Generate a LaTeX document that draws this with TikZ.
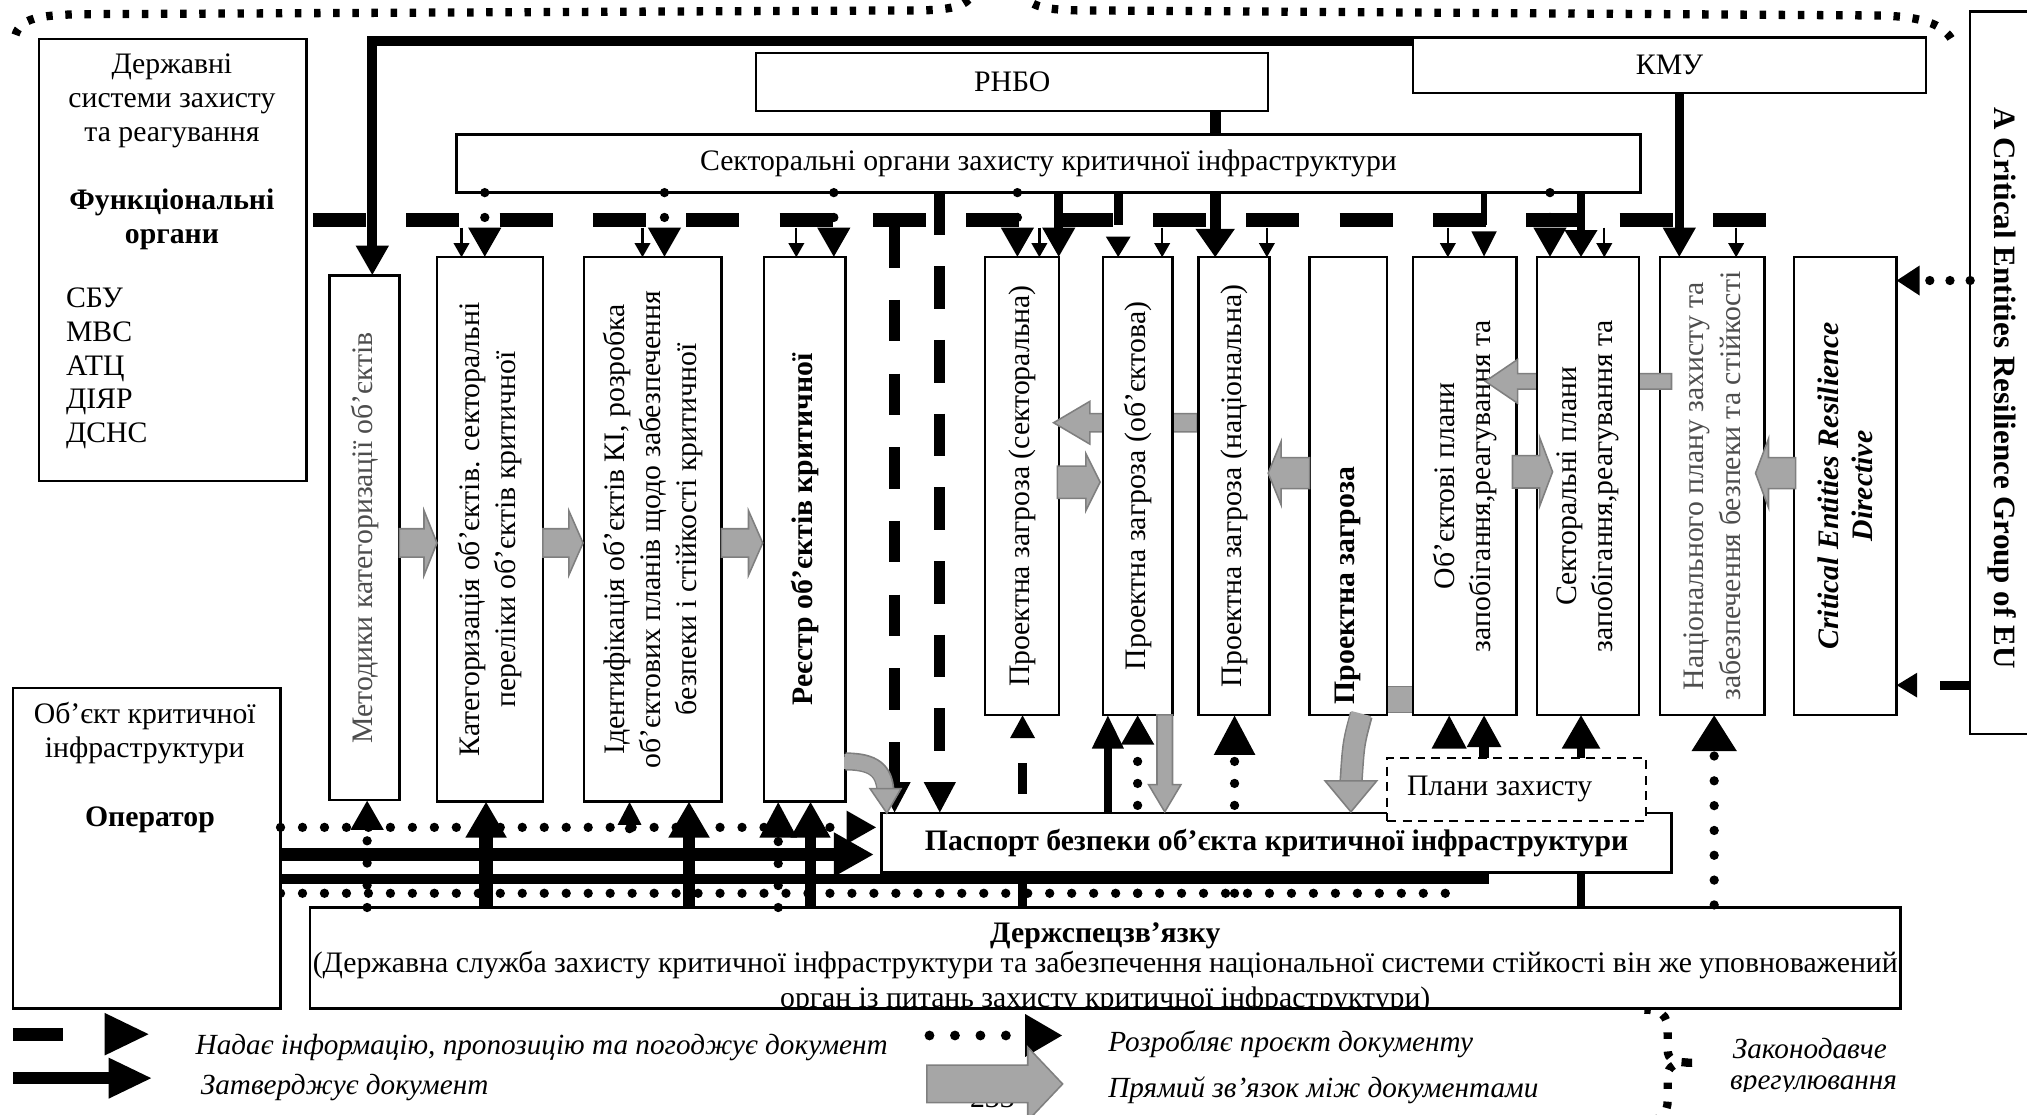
\documentclass[tikz,border=0pt]{standalone}
\usepackage{fontspec}
\setmainfont{Liberation Serif}
\usetikzlibrary{arrows.meta}
\pgfdeclarelayer{bg}
\pgfsetlayers{bg,main}
\definecolor{gfill}{HTML}{A6A6A6}
\definecolor{gedge}{HTML}{7F7F7F}
\definecolor{txtgray}{HTML}{4D4D4D}
\newcommand{\mkbox}[6][]{\node[box,#1,minimum width={(#5-#3)*0.5pt},minimum height={(#6-#4)*0.5pt}] (#2) at ({(#3+#5)/2},{(#4+#6)/2}) {};}
\newcommand{\GArrH}[6]{\filldraw[garrow] (#1,#3-#4) -- (#6,#3-#4) -- (#6,#3-#5) -- (#2,#3) -- (#6,#3+#5) -- (#6,#3+#4) -- (#1,#3+#4) -- cycle;}
\newcommand{\GArrV}[6]{\filldraw[garrow] (#1-#4,#2) -- (#1-#4,#6) -- (#1-#5,#6) -- (#1,#3) -- (#1+#5,#6) -- (#1+#4,#6) -- (#1+#4,#2) -- cycle;}
\begin{document}
\begin{tikzpicture}[x=0.5pt,y=-0.5pt,
 font=\fontsize{11.5}{13.2}\selectfont,
 box/.style={draw,line width=0.9pt,fill=white,inner sep=0pt,outer sep=0pt},
 vt/.style={rotate=90,align=center,font=\fontsize{11.5}{14}\selectfont,inner sep=0pt},
 thinarr/.style={line width=0.9pt,-{Triangle[width=6pt,length=5.5pt]}},
 thk/.style={line width=3.6pt,-{Triangle[width=12pt,length=11.5pt]}},
 dotln/.style={line width=3.6pt,line cap=round,dash pattern=on 0pt off 8.5pt},
 dotarr/.style={dotln,-{Triangle[width=12pt,length=11.5pt]}},
 dsh/.style={line width=4.3pt,dash pattern=on 16pt off 12.5pt,-{Triangle[width=11.5pt,length=12pt]}},
 garrow/.style={fill=gfill,draw=gedge,line width=0.6pt},
 brace/.style={line width=3.2pt,dash pattern=on 2.5pt off 4.9pt},
 leg/.style={font=\fontsize{11.3}{13}\selectfont\itshape,inner sep=0pt}]
\useasboundingbox (0,0) rectangle (1568,862);

% braces
\draw[brace] (12,27) .. controls (16,14) and (30,12) .. (60,11) -- (715,8) .. controls (742,7) and (750,3) .. (754,-8);
\draw[brace] (790,-8) .. controls (794,3) and (802,7) .. (830,8) -- (1455,12) .. controls (1490,13) and (1505,20) .. (1511,33);
\draw[brace] (1272,781) .. controls (1290,781) and (1290,790) .. (1290,800) -- (1290,812) .. controls (1290,820) and (1296,822) .. (1309,822);
\draw[brace] (1309,822) .. controls (1296,822) and (1290,824) .. (1290,833) -- (1290,852) .. controls (1290,860) and (1285,864) .. (1278,868);

% left boxes
\mkbox{ds}{30}{30}{237}{372}
\node[align=center] (dsT1) at (133,78) {Державні\\системи захисту\\та реагування};
\node[align=center,font=\fontsize{11.5}{13.2}\selectfont\bfseries] (dsT2) at (133,170) {Функціональні\\органи};
\node[align=left,anchor=west,font=\fontsize{11.5}{13}\selectfont] (dsT3) at (44,285) {СБУ\\МВС\\АТЦ\\ДІЯР\\ДСНС};

\mkbox{obj}{10}{532}{217}{780}
\node[align=center] (objT1) at (112,567) {Об’єкт критичної\\інфраструктури};
\node[font=\fontsize{11.5}{13.2}\selectfont\bfseries] (objT2) at (116,634) {Оператор};

% top boxes
\mkbox{rnbo}{585}{41}{981}{86}
\node (rnboT) at (rnbo) {РНБО};
\mkbox{kmu}{1093}{29}{1490}{72}
\node (kmuT) at (kmu) {КМУ};
\mkbox{sect}{353}{104}{1269}{149}
\node (sectT) at (sect) {Секторальні органи захисту критичної інфраструктури};

% vertical boxes
\mkbox{meth}{255}{213}{309}{619}
\node[vt,text=txtgray] (methT) at (meth) {Методики категоризації об’єктів};
\mkbox{kat}{338}{199}{420}{620}
\node[vt] (katT) at (kat) {Категоризація об’єктів. секторальні\\переліки об’єктів критичної};
\mkbox{ident}{452}{199}{558}{620}
\node[vt] (identT) at (ident) {Ідентифікація об’єктів КІ, розробка\\об’єктових планів щодо забезпечення\\безпеки і стійкості критичної};
\mkbox{reestr}{591}{199}{654}{620}
\node[vt,font=\fontsize{11.5}{14}\selectfont\bfseries] (reestrT) at (reestr) {Реєстр об’єктів критичної};
\GArrH{309}{338}{420}{11}{25}{328}
\GArrH{420}{451}{420}{11}{25}{440}
\GArrH{558}{590}{420}{11}{25}{579}

\mkbox{pz1}{762}{199}{819}{553}
\node[vt] (pz1T) at (pz1) {Проектна загроза (секторальна)};
\GArrH{926}{815}{327}{7}{16.5}{843}
\mkbox{pz2}{853}{199}{907}{553}
\node[vt] (pz2T) at (pz2) {Проектна загроза (об’єктова)};
\mkbox{pz3}{927}{199}{982}{553}
\node[vt] (pz3T) at (pz3) {Проектна загроза (національна)};
\GArrH{818}{851}{373}{12.5}{22}{840}
\filldraw[garrow] (1060,531) rectangle (1094,551);
\mkbox{pz4}{1013}{199}{1073}{553}
\node[vt,font=\fontsize{11.5}{14}\selectfont\bfseries] (pz4T) at (1043,453) {Проектна загроза};
\GArrH{1013}{981}{366}{12}{24.5}{991}

\mkbox{op}{1093}{199}{1173}{553}
\node[vt] (opT) at (op) {Об’єктові плани\\запобігання,реагування та};
\mkbox{np}{1284}{199}{1365}{553}
\node[vt,text=txtgray] (npT) at (np) {Національного плану захисту та\\забезпечення безпеки та стійкості};
\GArrH{1293}{1149}{295}{6}{17}{1174}
\mkbox{sp}{1189}{199}{1268}{553}
\node[vt] (spT) at (sp) {Секторальні плани\\запобігання,реагування та};
\GArrH{1170}{1201}{365}{12.5}{26.5}{1191}
\mkbox{cerd}{1388}{199}{1467}{553}
\node[vt,font=\fontsize{11.5}{13}\selectfont\bfseries\itshape] (cerdT) at (cerd) {Critical Entities Resilience\\Directive};
\GArrH{1389}{1358}{366}{12}{26.5}{1368}

\mkbox{acr}{1524}{9}{1600}{568}
\node[rotate=-90,font=\fontsize{12}{14}\selectfont\bfseries] (acrT) at (1549,300) {A Critical Entities Resilience Group of EU};

% passport, plans, DSZ
\mkbox{pasp}{682}{629}{1293}{675}
\node[font=\fontsize{11.5}{13.2}\selectfont\bfseries] (paspT) at (pasp) {Паспорт безпеки об’єкта критичної інфраструктури};
\mkbox[dash pattern=on 3.5pt off 2.5pt,line width=0.8pt]{plany}{1073}{586}{1273}{635}
\node (planyT) at (1160,610) {Плани захисту};
\mkbox{dsz}{240}{702}{1470}{780}
\node[anchor=base,font=\fontsize{11.5}{13.2}\selectfont\bfseries] (dszT1) at (855,729) {Держспецзв’язку};
\node[anchor=base] (dszT2) at (855,752) {(Державна служба захисту критичної інфраструктури та забезпечення національної системи стійкості він же уповноважений};
\begin{scope}
\clip (240,755) rectangle (1470,779);
\node[anchor=base] (dszT3) at (855,779) {орган із питань захисту критичної інфраструктури)};
\end{scope}

% connectors behind boxes
\begin{pgfonlayer}{bg}
\draw[line width=3.8pt,-{Triangle[width=12pt,length=11.5pt]}] ([yshift=-1.5pt]kmu.north west) -| (288,0 |- meth.north);
\draw[line width=4.2pt,-{Triangle[width=14.5pt,length=11pt]}] (940,0 |- rnbo.south) -- (940,0 |- pz3.north);
\draw[line width=4pt,line join=miter,-{Triangle[width=12.5pt,length=12.5pt]}] (obj.east |- 0,680) -- (1148,680) -- (1148,0 |- op.south);
\draw[dotln,-{Triangle[width=12.5pt,length=13pt]}] (obj.east |- 0,691) -- (1121,691) -- (1121,0 |- op.south);
\draw[line width=3pt,-{Triangle[width=11.5pt,length=13pt]}] (857,680) -- (857,0 |- pz2.south);
\draw[dotarr] (880,691) -- (880,0 |- pz2.south);
\draw[dotln,-{Triangle[width=15pt,length=15.5pt]}] (955,691) -- (955,0 |- pz3.south);
\draw[line width=3.4pt,dash pattern=on 12pt off 10pt,-{Triangle[width=9pt,length=9pt]}] (791,0 |- dsz.north) -- (791,0 |- pz1.south);
\draw[line width=3pt,-{Triangle[width=14pt,length=13pt]}] (1223,0 |- dsz.north) -- (1223,0 |- sp.south);
\end{pgfonlayer}

% bus
\draw[line width=5.5pt,dash pattern=on 20.5pt off 15.6pt] (242,170) -- (1366,170);
\foreach \x/\b in {357/kat,497/ident,616/reestr,804/pz1,899/pz2,980/pz3,1120/op,1241/sp,1343/np}
  \draw[thinarr] (\x,176) -- (\x,0 |- \b.north);
\foreach \x/\b in {375/kat,514/ident,645/reestr,787/pz1,1199/sp}
  \draw[dotln,dash pattern=on 0pt off 9.6pt,-{Triangle[width=12pt,length=11.5pt]}] (\x,0 |- sect.south) -- (\x,0 |- \b.north);
\draw[thk] (819,0 |- sect.south) -- (819,0 |- pz1.north);
\draw[line width=3.1pt,-{Triangle[width=12pt,length=10.5pt]}] (1223,0 |- sect.south) -- (1223,0 |- sp.north);
\draw[line width=3.6pt,dash pattern=on 12.5pt off 30pt,-{Triangle[width=9pt,length=8pt]}] (865,0 |- sect.south) -- (865,0 |- pz2.north);
\draw[line width=2.6pt,dash pattern=on 12.5pt off 30pt,-{Triangle[width=9pt,length=10pt]}] (1148,0 |- sect.south) -- (1148,0 |- op.north);
\draw[thk] (1299,0 |- kmu.south) -- (1299,0 |- np.north);
\draw[dsh] (692,175) -- (692,0 |- pasp.north);
\draw[dsh,dash pattern=on 16.5pt off 12pt] (727,0 |- sect.south) -- (727,0 |- pasp.north);

% from the EU group
\draw[dotln,dash pattern=on 0pt off 7.8pt,-{Triangle[width=11pt,length=9pt]}] (acr.west |- 0,217) -- (cerd.east |- 0,217);
\draw[line width=3.5pt,dash pattern=on 11.5pt off 20pt,-{Triangle[width=9pt,length=8pt]}] (acr.west |- 0,530) -- (cerd.east |- 0,530);

% from DSZ upwards
\draw[dotln,dash pattern=on 0pt off 8.6pt,-{Triangle[width=12pt,length=11.5pt]}] (284,0 |- dsz.north) -- (284,0 |- meth.south);
\draw[line width=5.2pt,-{Triangle[width=15pt,length=14pt]}] (376,0 |- dsz.north) -- (376,0 |- kat.south);
\draw[dotln,-{Triangle[width=8.5pt,length=9pt]}] (487,641) -- (487,0 |- ident.south);
\draw[line width=5pt,-{Triangle[width=15pt,length=14pt]}] (533,0 |- dsz.north) -- (533,0 |- ident.south);
\draw[dotln,-{Triangle[width=13.5pt,length=14pt]}] (602,0 |- dsz.north) -- (602,0 |- reestr.south);
\draw[line width=4.5pt,-{Triangle[width=14.5pt,length=14pt]}] (627,0 |- dsz.north) -- (627,0 |- reestr.south);
\draw[dotln,dash pattern=on 0pt off 9.6pt,-{Triangle[width=16.5pt,length=14pt]}] (1326,700) -- (1326,0 |- np.south);

% operator to passport
\draw[dotln,-{Triangle[width=12pt,length=11.5pt]}] (obj.east |- 0,640) -- ([xshift=-2pt]pasp.west |- 0,640);
\draw[line width=4.8pt,-{Triangle[width=16pt,length=15.5pt]}] (obj.east |- 0,661) -- ([xshift=-3pt]pasp.west |- 0,661);

% grey links to passport
\GArrV{901}{553}{628}{6}{12.5}{607}
\draw[line width=7pt,gedge] (654,589) .. controls (676,589) and (684,596) .. (685,612);
\draw[line width=5.8pt,gfill] (653,589) .. controls (676,589) and (684,596) .. (685,613);
\filldraw[garrow] (673,610) -- (697,610) -- (686,629) -- cycle;
\draw[line width=9pt,gedge] (1053,553) .. controls (1047,575) .. (1045,606);
\draw[line width=7.8pt,gfill] (1053,552) .. controls (1047,575) .. (1045,607);
\filldraw[garrow] (1025,604) -- (1065,604) -- (1045,628) -- cycle;

% legend
\draw[line width=5pt,dash pattern=on 19.5pt off 60pt,-{Triangle[width=15pt,length=17.5pt]}] (10,800) -- (116,800);
\draw[line width=4.5pt,-{Triangle[width=14.5pt,length=17pt]}] (10,834) -- (118,834);
\draw[line width=3.8pt,line cap=round,dash pattern=on 0pt off 9.85pt,-{Triangle[width=15.5pt,length=14.5pt]}] (719,801) -- (822,801);
\node[anchor=base east] (pg) at (792,857) {233};
\GArrH{717}{822}{838.5}{14.5}{28.5}{795}
\node[leg,anchor=west] (l1) at (151,810) {Надає інформацію, пропозицію та погоджує документ};
\node[leg,anchor=west] (l2) at (155,841) {Затверджує документ};
\node[leg,anchor=west] (l3) at (857,808) {Розробляє проєкт документу};
\node[leg,anchor=west] (l4) at (857,843) {Прямий зв’язок між документами};
\node[leg,anchor=west] (l5) at (1340,811) {Законодавче};
\begin{scope}
\clip (1300,820) rectangle (1520,844);
\node[leg,anchor=base west] (l6) at (1338,843) {врегулювання};
\end{scope}
\end{tikzpicture}
\end{document}
